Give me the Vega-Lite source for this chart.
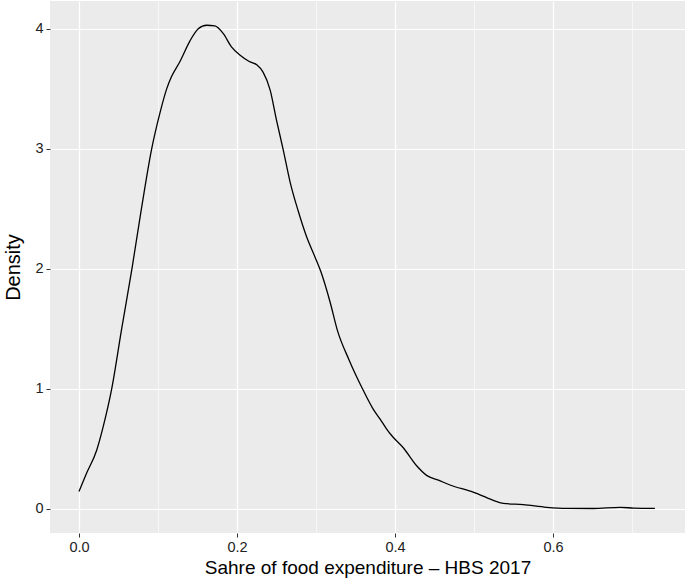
{
  "$schema": "https://vega.github.io/schema/vega-lite/v6.json",
  "autosize": "none",
  "width": 635,
  "height": 532,
  "padding": {"left": 50, "top": 1, "right": 0, "bottom": 46},
  "background": "white",
  "config": {
    "view": {"stroke": null, "fill": "#EBEBEB"},
    "font": "Liberation Sans"
  },
  "data": {
    "values": [
      {"share": 0.000, "density": 0.145},
      {"share": 0.0097, "density": 0.30},
      {"share": 0.0224, "density": 0.49},
      {"share": 0.0308, "density": 0.69},
      {"share": 0.0414, "density": 1.00},
      {"share": 0.054, "density": 1.50},
      {"share": 0.067, "density": 2.00},
      {"share": 0.079, "density": 2.50},
      {"share": 0.092, "density": 3.00},
      {"share": 0.1025, "density": 3.30},
      {"share": 0.111, "density": 3.50},
      {"share": 0.117, "density": 3.60},
      {"share": 0.128, "density": 3.73},
      {"share": 0.1405, "density": 3.90},
      {"share": 0.151, "density": 4.00},
      {"share": 0.1616, "density": 4.03},
      {"share": 0.172, "density": 4.025},
      {"share": 0.1827, "density": 3.96},
      {"share": 0.193, "density": 3.85},
      {"share": 0.204, "density": 3.78},
      {"share": 0.215, "density": 3.73},
      {"share": 0.225, "density": 3.70},
      {"share": 0.233, "density": 3.64},
      {"share": 0.242, "density": 3.49},
      {"share": 0.250, "density": 3.24},
      {"share": 0.2586, "density": 2.99},
      {"share": 0.267, "density": 2.73},
      {"share": 0.2776, "density": 2.48},
      {"share": 0.288, "density": 2.27},
      {"share": 0.2987, "density": 2.10},
      {"share": 0.306, "density": 1.98},
      {"share": 0.318, "density": 1.72},
      {"share": 0.327, "density": 1.49},
      {"share": 0.342, "density": 1.24},
      {"share": 0.359, "density": 1.00},
      {"share": 0.3726, "density": 0.83},
      {"share": 0.381, "density": 0.75},
      {"share": 0.389, "density": 0.67},
      {"share": 0.396, "density": 0.61},
      {"share": 0.4105, "density": 0.51},
      {"share": 0.4274, "density": 0.36},
      {"share": 0.440, "density": 0.28},
      {"share": 0.455, "density": 0.24},
      {"share": 0.4696, "density": 0.20},
      {"share": 0.499, "density": 0.14},
      {"share": 0.516, "density": 0.095},
      {"share": 0.5245, "density": 0.072},
      {"share": 0.537, "density": 0.047},
      {"share": 0.5624, "density": 0.036},
      {"share": 0.592, "density": 0.014},
      {"share": 0.617, "density": 0.005},
      {"share": 0.651, "density": 0.004},
      {"share": 0.685, "density": 0.013},
      {"share": 0.702, "density": 0.008},
      {"share": 0.729, "density": 0.005}
    ]
  },
  "mark": {"type": "line", "color": "black", "strokeWidth": 1.3, "interpolate": "monotone"},
  "encoding": {
    "x": {
      "field": "share",
      "type": "quantitative",
      "scale": {"domain": [-0.0367, 0.7671], "nice": false, "zero": false},
      "axis": {
        "title": "Sahre of food expenditure \u2013 HBS 2017",
        "values": [0, 0.1, 0.2, 0.3, 0.4, 0.5, 0.6, 0.7],
        "format": ".1f",
        "labelExpr": "round(datum.value*10) % 2 == 1 ? '' : datum.label",
        "domain": false,
        "grid": true,
        "gridColor": "white",
        "gridWidth": {"condition": {"test": "round(datum.value*10) % 2 == 1", "value": 0.6}, "value": 1.2},
        "tickColor": "#333333",
        "tickOpacity": {"condition": {"test": "round(datum.value*10) % 2 == 1", "value": 0}, "value": 1},
        "tickSize": 4,
        "labelPadding": 3,
        "labelFontSize": 14.5,
        "labelColor": "#222222",
        "titleFontSize": 19,
        "titleFontWeight": "normal",
        "titleColor": "black",
        "titlePadding": 5
      }
    },
    "y": {
      "field": "density",
      "type": "quantitative",
      "scale": {"domain": [-0.2, 4.232], "nice": false, "zero": false},
      "axis": {
        "title": "Density",
        "values": [0, 0.5, 1, 1.5, 2, 2.5, 3, 3.5, 4],
        "format": "d",
        "labelExpr": "datum.value % 1 != 0 ? '' : datum.label",
        "domain": false,
        "grid": true,
        "gridColor": "white",
        "gridWidth": {"condition": {"test": "datum.value % 1 != 0", "value": 0.6}, "value": 1.2},
        "tickColor": "#333333",
        "tickOpacity": {"condition": {"test": "datum.value % 1 != 0", "value": 0}, "value": 1},
        "tickSize": 4,
        "labelPadding": 3,
        "labelFontSize": 14.5,
        "labelColor": "#222222",
        "titleFontSize": 20,
        "titleFontWeight": "normal",
        "titleColor": "black",
        "titlePadding": 11
      }
    }
  }
}
